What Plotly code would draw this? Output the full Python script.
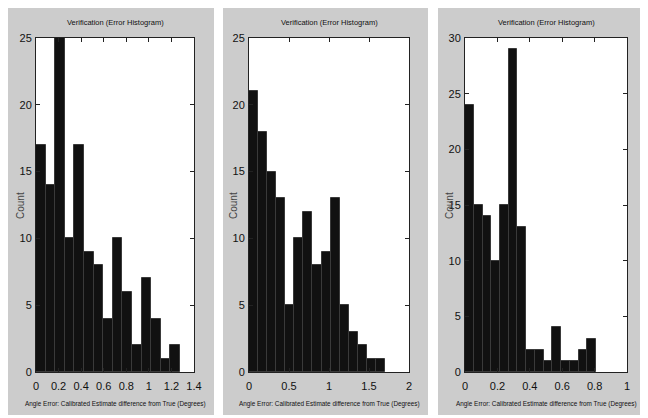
import plotly.graph_objects as go

W, H = 648, 418
OFF = 8  # browser page margin: the figure starts 8px in from the window corner
FW, FH = W - OFF, H - OFF

# ---- data ----
counts_a = [17, 14, 25, 10, 17, 9, 8, 4, 10, 6, 2, 7, 4, 1, 2]
counts_b = [21, 18, 15, 13, 5, 10, 12, 8, 9, 13, 5, 3, 2, 1, 1]
counts_c = [24, 15, 14, 10, 15, 29, 13, 2, 2, 1, 4, 1, 1, 2, 3]
bin_width_a = 0.0851
bin_width_b = 0.1133
bin_width_c = 0.054
xticks_a = [0, 0.2, 0.4, 0.6, 0.8, 1, 1.2, 1.4]
xticks_b = [0, 0.5, 1, 1.5, 2]
xticks_c = [0, 0.2, 0.4, 0.6, 0.8, 1]
yticks_ab = [0, 5, 10, 15, 20, 25]
yticks_c = [0, 5, 10, 15, 20, 25, 30]
title_text = "Verification (Error Histogram)"
xlabel_text = "Angle Error: Calibrated Estimate difference from True (Degrees)"
ylabel_text = "Count"

panels = [
    dict(counts=counts_a, bw=bin_width_a, xt=xticks_a, yt=yticks_ab, xr=[0, 1.4], yr=[0, 25],
         bg=(8, 214), plot=(36, 194)),
    dict(counts=counts_b, bw=bin_width_b, xt=xticks_b, yt=yticks_ab, xr=[0, 2], yr=[0, 25],
         bg=(223, 428), plot=(249, 409)),
    dict(counts=counts_c, bw=bin_width_c, xt=xticks_c, yt=yticks_c, xr=[0, 1], yr=[0, 30],
         bg=(438, 641), plot=(465, 627)),
]
plot_top, plot_bot = 38, 372
bg_top, bg_bot = 8, 415

def px(x):
    return (x - OFF) / FW

def py(y):
    return 1 - (y - OFF) / FH

fig = go.Figure()
shapes = []
annotations = []
narrow = "Liberation Sans Narrow, Arial Narrow, Liberation Sans, sans-serif"

for i, p in enumerate(panels):
    n = i + 1
    xa = "x" if n == 1 else f"x{n}"
    ya = "y" if n == 1 else f"y{n}"
    centers = [p["bw"] * (k + 0.5) for k in range(len(p["counts"]))]
    fig.add_trace(go.Bar(
        x=centers, y=p["counts"], width=[p["bw"]] * len(centers),
        marker=dict(color="#111111", line=dict(color="#3a3a3a", width=1)),
        xaxis=xa, yaxis=ya, showlegend=False, hoverinfo="skip",
    ))
    axis_common = dict(
        showgrid=False, zeroline=False, showline=True, linecolor="#222222", linewidth=1,
        mirror="ticks", ticks="inside", ticklen=4, tickcolor="#222222",
        tickfont=dict(family=narrow, size=11, color="#111111"),
        fixedrange=True, automargin=False,
    )
    fig.layout[f"xaxis{'' if n == 1 else n}"] = dict(
        axis_common, domain=[px(p["plot"][0]), px(p["plot"][1])], anchor=ya,
        range=p["xr"], tickvals=p["xt"], ticktext=[f"{v:g}" for v in p["xt"]],
        ticklabelstandoff=4,
    )
    fig.layout[f"yaxis{'' if n == 1 else n}"] = dict(
        axis_common, domain=[py(plot_bot), py(plot_top)], anchor=xa,
        range=p["yr"], tickvals=p["yt"], ticktext=[f"{v:g}" for v in p["yt"]],
        ticklabelstandoff=1,
    )
    # gray figure panel
    shapes.append(dict(type="rect", xref="paper", yref="paper",
                       x0=px(p["bg"][0]), x1=px(p["bg"][1]), y0=py(bg_bot), y1=py(bg_top),
                       fillcolor="#cccccc", line=dict(width=0), layer="below"))
    # white axes area
    shapes.append(dict(type="rect", xref="paper", yref="paper",
                       x0=px(p["plot"][0]), x1=px(p["plot"][1]), y0=py(plot_bot), y1=py(plot_top),
                       fillcolor="white", line=dict(width=0), layer="below"))
    cx = (p["plot"][0] + p["plot"][1]) / 2
    annotations.append(dict(text=title_text, xref="paper", yref="paper", x=px(cx), y=py(22),
                            xanchor="center", yanchor="middle", showarrow=False,
                            font=dict(family=narrow, size=7.5, color="#111111")))
    annotations.append(dict(text=xlabel_text, xref="paper", yref="paper", x=px(cx), y=py(404),
                            xanchor="center", yanchor="middle", showarrow=False,
                            font=dict(family=narrow, size=6.4, color="#111111")))
    annotations.append(dict(text=ylabel_text, xref="paper", yref="paper",
                            x=px(p["plot"][0] - 16), y=py(206), textangle=-90,
                            xanchor="center", yanchor="middle", showarrow=False,
                            font=dict(family="Liberation Sans, Arial, sans-serif", size=10,
                                      color="#444444")))

fig.update_layout(
    width=FW, height=FH, margin=dict(l=0, r=0, t=0, b=0),
    paper_bgcolor="white", plot_bgcolor="white",
    bargap=0, shapes=shapes, annotations=annotations,
)

fig.write_html("out.html")
